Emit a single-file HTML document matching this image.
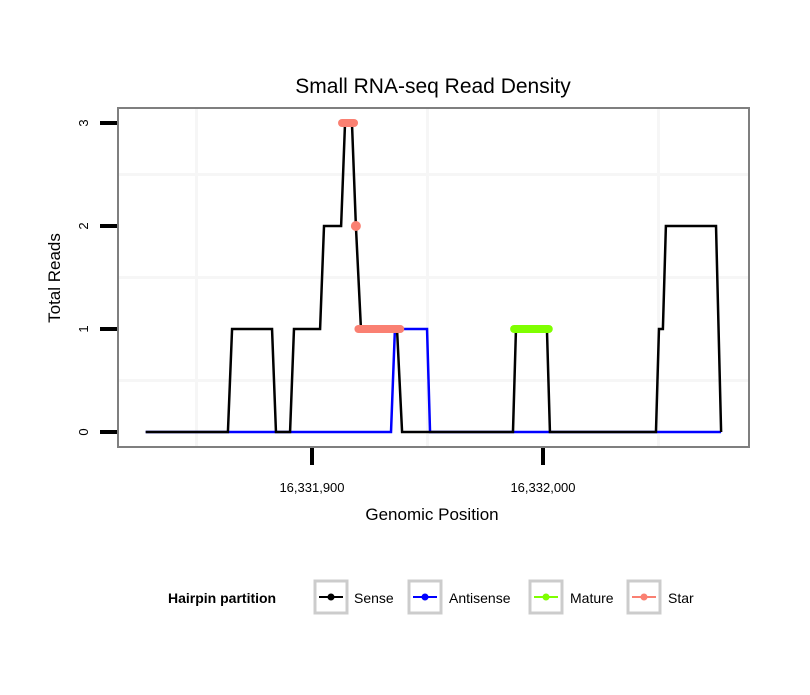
<!DOCTYPE html>
<html><head><meta charset="utf-8"><style>
body{margin:0;background:#fff;}
svg text{font-family:"Liberation Sans",sans-serif;}
</style></head><body>
<svg id="chart" width="810" height="690" xmlns="http://www.w3.org/2000/svg">
<rect width="810" height="690" fill="#fff"/>
<text x="433" y="93" text-anchor="middle" font-size="21">Small RNA-seq Read Density</text>
<g id="grid"></g>
<g id="series"></g>
<rect x="118" y="108" width="631" height="339" fill="none" stroke="#7f7f7f" stroke-width="2"/>
<g id="axes"></g>
<text x="432" y="520" text-anchor="middle" font-size="17">Genomic Position</text>
<text transform="translate(60,278) rotate(-90)" text-anchor="middle" font-size="17">Total Reads</text>
<g>
<text x="168" y="603" font-size="14" font-weight="bold">Hairpin partition</text>
<g><rect x="315" y="581" width="32" height="32" fill="#fff" stroke="#ccc" stroke-width="3"/><line x1="319" y1="597" x2="343" y2="597" stroke="#000" stroke-width="2"/><circle cx="331" cy="597" r="3.5" fill="#000"/><text x="354" y="603" font-size="14">Sense</text></g>
<g><rect x="409" y="581" width="32" height="32" fill="#fff" stroke="#ccc" stroke-width="3"/><line x1="413" y1="597" x2="437" y2="597" stroke="#00f" stroke-width="2"/><circle cx="425" cy="597" r="3.5" fill="#00f"/><text x="449" y="603" font-size="14">Antisense</text></g>
<g><rect x="530" y="581" width="32" height="32" fill="#fff" stroke="#ccc" stroke-width="3"/><line x1="534" y1="597" x2="558" y2="597" stroke="#7fff00" stroke-width="2"/><circle cx="546" cy="597" r="3.5" fill="#7fff00"/><text x="570" y="603" font-size="14">Mature</text></g>
<g><rect x="628" y="581" width="32" height="32" fill="#fff" stroke="#ccc" stroke-width="3"/><line x1="632" y1="597" x2="656" y2="597" stroke="#fa8072" stroke-width="2"/><circle cx="644" cy="597" r="3.5" fill="#fa8072"/><text x="668" y="603" font-size="14">Star</text></g>
</g>
</svg>
<script>
const base = 16331900;
const senseX = [-72,-36.4,-34.6,-17.3,-15.6,-9.5,-7.8,3.5,5.2,12.6,14.3,17.3,19.0,21.2,36.8,39.0,87.0,88.3,101.7,103.0,148.9,150.2,151.9,153.2,174.9,177.1];
const senseY = [0,0,1,1,0,0,1,1,2,2,3,3,2,1,1,0,0,1,1,0,0,1,1,2,2,0];
const antiX = [-72,34.2,35.9,49.8,51.1,177.1];
const antiY = [0,0,1,1,0,0];
const matureX = [87.5,102.5];
const matureY = [1,1];
const starSegX = [[13.0,18.2],[20.1,38.2]];
const starSegY = [3,1];
const starPtX = [19.0];
const starPtY = [2];
const yTicks = [0,1,2,3];
const xTicks = [16331900,16332000];
const xTickLabels = ["16,331,900","16,332,000"];
const xGrid = [16331850,16331950,16332050];
const yGrid = [0.5,1.5,2.5];

const NS="http://www.w3.org/2000/svg";
const X = g => 312 + (g - base) * 2.31;
const Xo = o => 312 + o * 2.31;
const Y = v => 432 - v * 103;
function mk(tag, attrs, parent){const e=document.createElementNS(NS,tag);for(const k in attrs)e.setAttribute(k,attrs[k]);parent.appendChild(e);return e;}
const grid=document.getElementById('grid'), ser=document.getElementById('series'), axes=document.getElementById('axes');
xGrid.forEach(g=>{const l=mk('line',{x1:X(g),x2:X(g),y1:109,y2:446,stroke:'#f6f6f6','stroke-width':3},grid);

});
yGrid.forEach(v=>{const l=mk('line',{x1:119,x2:748,y1:Y(v),y2:Y(v),stroke:'#f6f6f6','stroke-width':3},grid);

});
function poly(xs,ys,color,name){const p=xs.map((x,i)=>Xo(x)+','+Y(ys[i])).join(' ');
const e=mk('polyline',{points:p,fill:'none',stroke:color,'stroke-width':2.5,'stroke-linejoin':'miter'},ser);

}
poly(antiX,antiY,'#0000ff','antisense-line');
poly(senseX,senseY,'#000000','sense-line');
const m=mk('line',{x1:Xo(matureX[0]),x2:Xo(matureX[1]),y1:Y(matureY[0]),y2:Y(matureY[1]),stroke:'#7fff00','stroke-width':8,'stroke-linecap':'round'},ser);


starSegX.forEach((s,i)=>{const l=mk('line',{x1:Xo(s[0]),x2:Xo(s[1]),y1:Y(starSegY[i]),y2:Y(starSegY[i]),stroke:'#fa8072','stroke-width':8,'stroke-linecap':'round'},ser);

});
starPtX.forEach((x,i)=>{const c=mk('circle',{cx:Xo(x),cy:Y(starPtY[i]),r:5,fill:'#fa8072'},ser);

});
yTicks.forEach(v=>{const l=mk('line',{x1:100,x2:117,y1:Y(v),y2:Y(v),stroke:'#000','stroke-width':4},axes);


const t=mk('text',{transform:`translate(88,${Y(v)}) rotate(-90)`,'text-anchor':'middle','font-size':13},axes);t.textContent=v;

});
xTicks.forEach((g,i)=>{const l=mk('line',{x1:X(g),x2:X(g),y1:448,y2:465,stroke:'#000','stroke-width':4},axes);


const t=mk('text',{x:X(g),y:492,'text-anchor':'middle','font-size':13},axes);t.textContent=xTickLabels[i];

});
</script>
</body></html>
